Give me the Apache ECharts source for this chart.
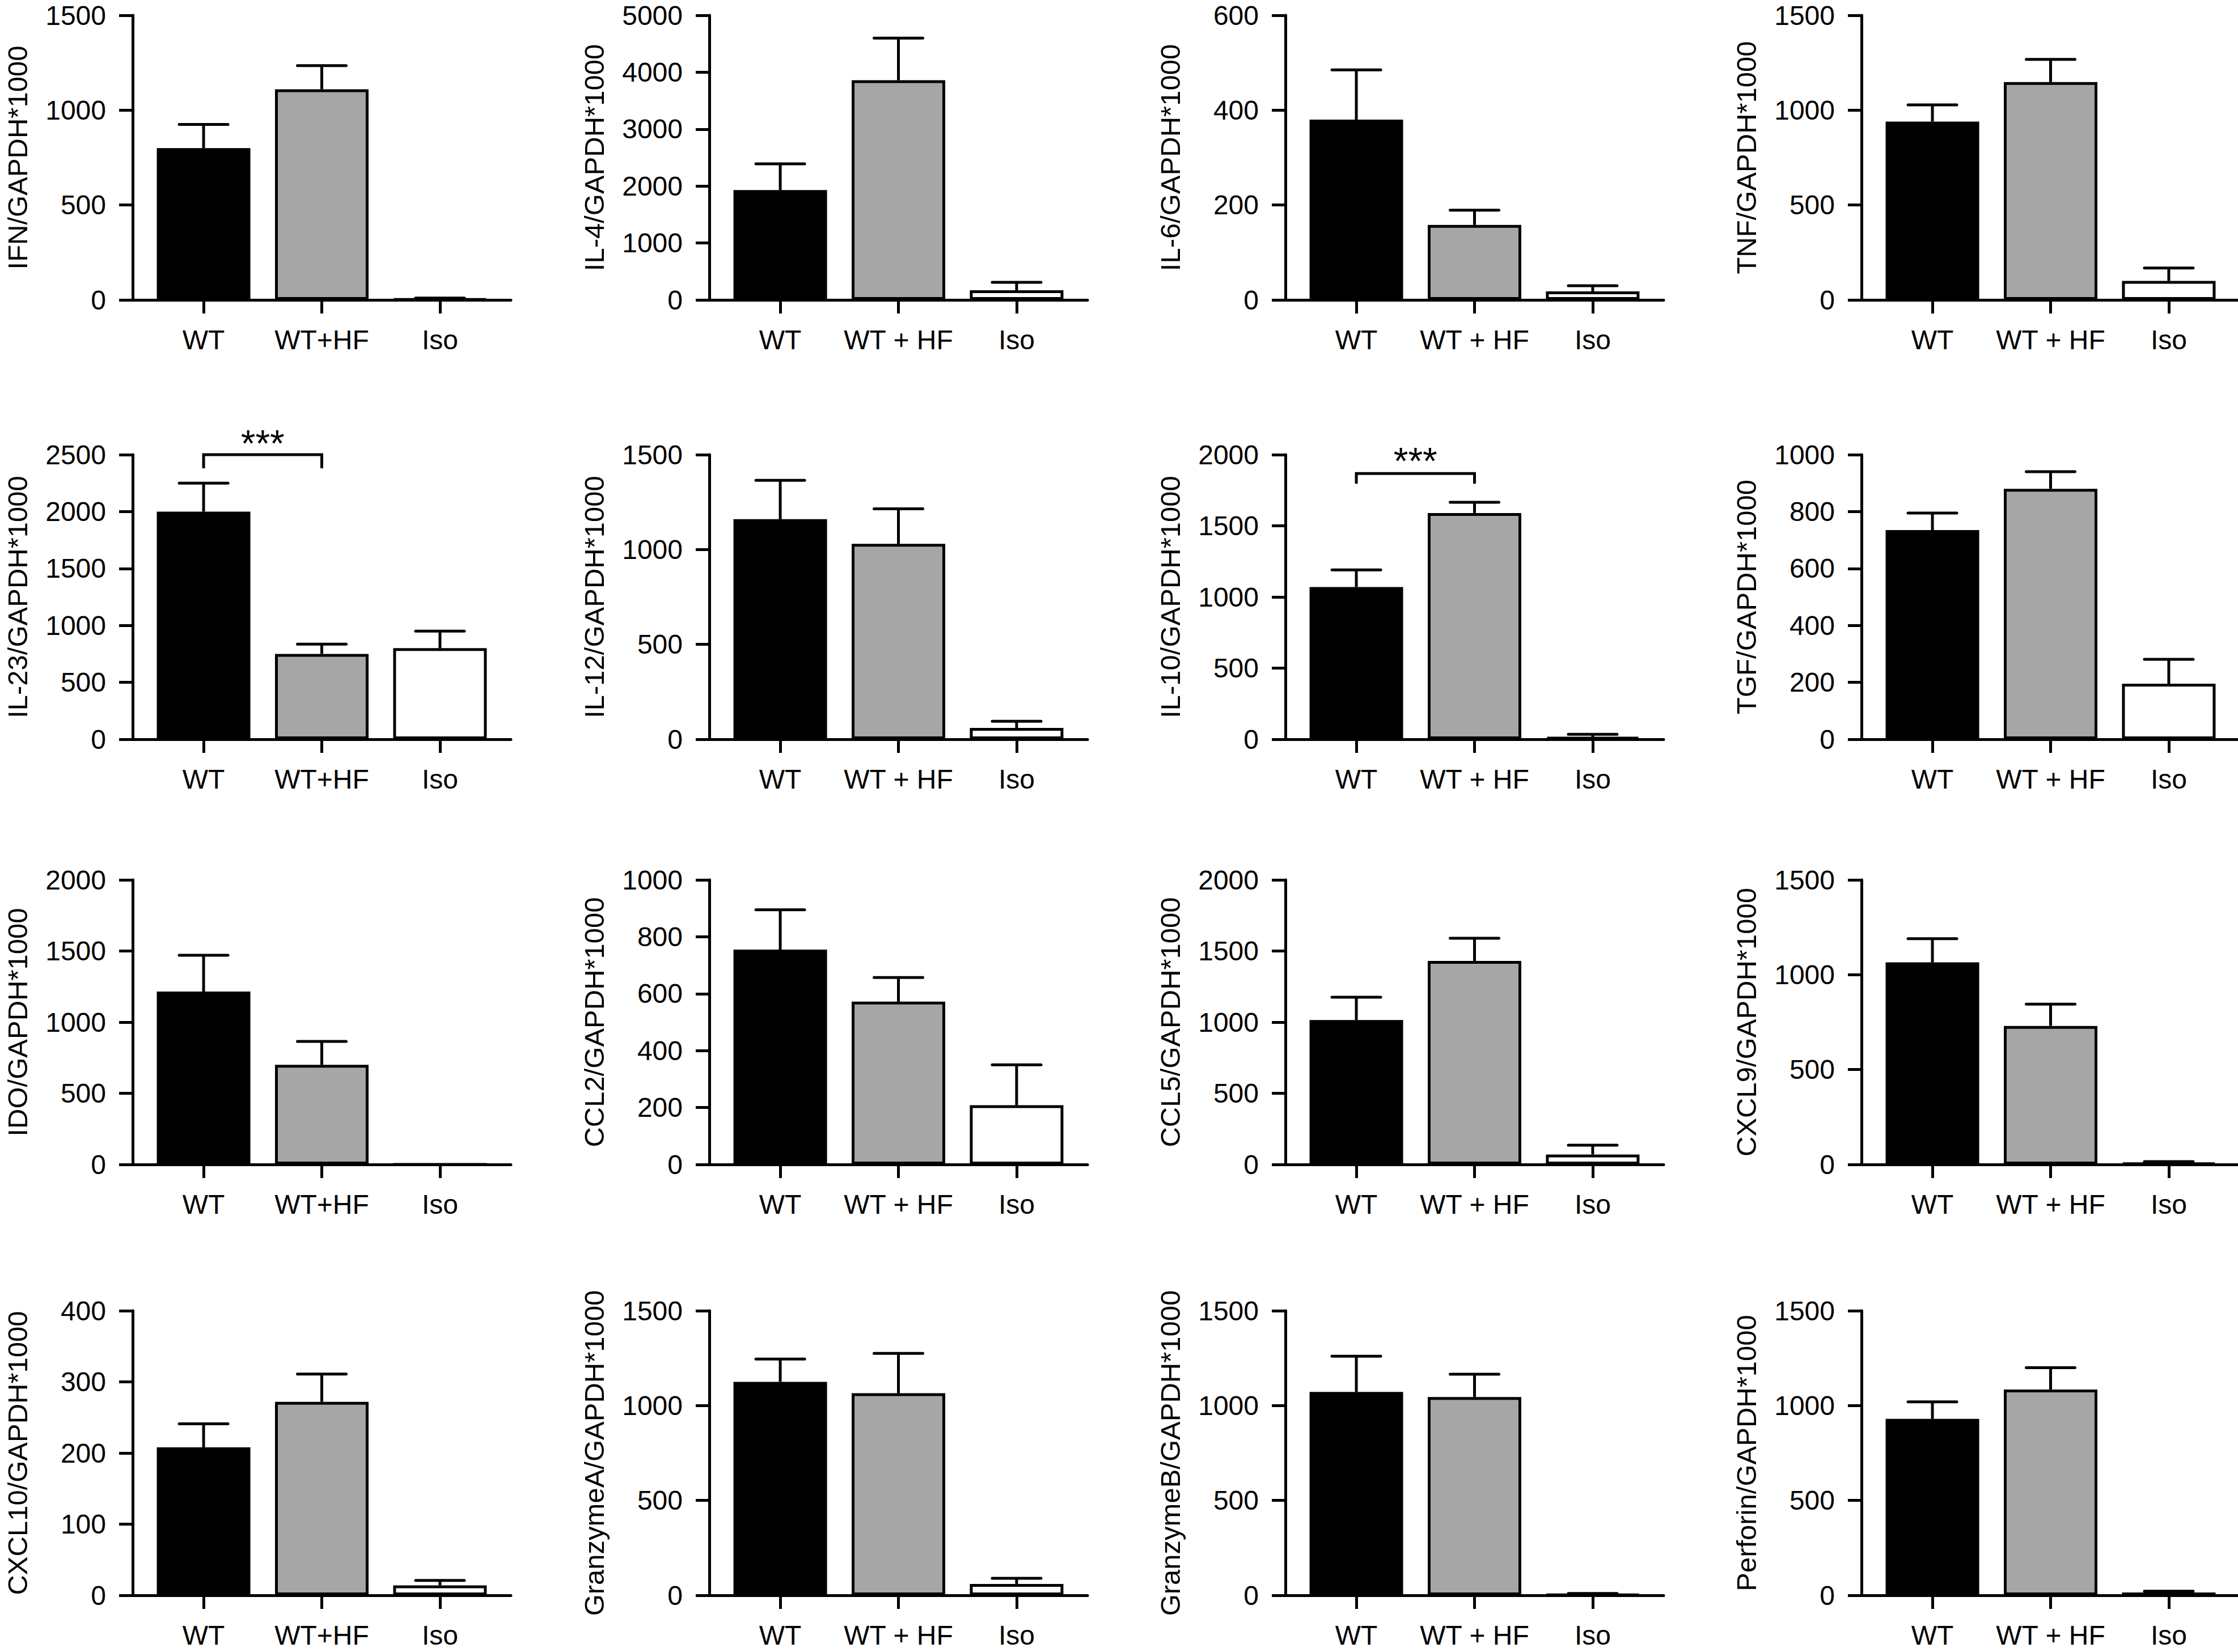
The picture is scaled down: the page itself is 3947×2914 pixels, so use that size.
<!DOCTYPE html>
<html><head><meta charset="utf-8">
<script src="https://cdn.jsdelivr.net/npm/echarts@6/dist/echarts.min.js"></script>
<style>html,body{margin:0;padding:0;background:#fff}#c{width:3947px;height:2914px}</style>
</head><body><div id="c"></div>
<script>
// ---- data ----
const titles = ['IFN/GAPDH*1000','IL-4/GAPDH*1000','IL-6/GAPDH*1000','TNF/GAPDH*1000',
  'IL-23/GAPDH*1000','IL-12/GAPDH*1000','IL-10/GAPDH*1000','TGF/GAPDH*1000',
  'IDO/GAPDH*1000','CCL2/GAPDH*1000','CCL5/GAPDH*1000','CXCL9/GAPDH*1000',
  'CXCL10/GAPDH*1000','GranzymeA/GAPDH*1000','GranzymeB/GAPDH*1000','Perforin/GAPDH*1000'];
const catsCompact = ['WT','WT+HF','Iso'];
const catsSpaced = ['WT','WT + HF','Iso'];
const compactPanels = [0,4,8,12];
const yMax  = [1500,5000,600,1500, 2500,1500,2000,1000, 2000,1000,2000,1500, 400,1500,1500,1500];
const yStep = [500,1000,200,500, 500,500,500,200, 500,200,500,500, 100,500,500,500];
const wt    = [800,1930,380,940, 2000,1160,1070,735, 1215,755,1015,1065, 208,1125,1072,930];
const wtSem = [125,460,105,88, 250,205,120,60, 255,140,160,125, 33,120,188,90];
const hf    = [1110,3860,158,1148, 750,1030,1590,880, 700,572,1430,730, 272,1065,1045,1085];
const hfSem = [125,740,31,120, 85,185,75,60, 165,85,160,115, 39,210,120,115];
const iso   = [5,170,18,100, 800,60,15,195, 0,208,70,8, 14,60,5,15];
const isoSem= [5,140,12,68, 150,35,20,86, 0,142,65,7, 7,30,5,7];
// significance brackets
const sigPanel   = [4, 6];
const sigBracket = [2500, 1868];
const sigLeg     = [2380, 1796];
const sigStar    = [2600, 1955];
const sigText    = ['***','***'];

// ---- layout / style ----
const FONT = '"Liberation Sans", Arial, Helvetica, sans-serif';
const colX = [234, 1251, 2267, 3283];
const rowY = [27, 802, 1552, 2312];
const GW = 667, GH = 502;
const LW = 5;
const barColors = ['#000000', '#a6a6a6', '#ffffff'];

const chart = echarts.init(document.getElementById('c'), null, {renderer: 'svg', width: 3947, height: 2914});
const grid = [], xAxis = [], yAxis = [], series = [];

for (let i = 0; i < 16; i++) {
  const r = Math.floor(i / 4), c = i % 4;
  const cats = compactPanels.includes(i) ? catsCompact : catsSpaced;
  grid.push({left: colX[c], top: rowY[r], width: GW, height: GH, containLabel: false, outerBoundsMode: 'none'});
  xAxis.push({
    gridIndex: i, type: 'value', min: -0.6, max: 2.6,
    axisLine: {show: true, onZero: false, lineStyle: {color: '#000', width: LW}},
    axisTick: {show: true, customValues: [0, 1, 2], length: 24, lineStyle: {color: '#000', width: LW}},
    axisLabel: {show: true, customValues: [0, 1, 2], formatter: v => cats[Math.round(v)] || '',
      fontSize: 48, color: '#000', margin: 46, fontFamily: FONT},
    splitLine: {show: false}
  });
  yAxis.push({
    gridIndex: i, type: 'value', min: 0, max: yMax[i], interval: yStep[i],
    axisLine: {show: true, onZero: false, lineStyle: {color: '#000', width: LW}},
    axisTick: {show: true, length: 24, lineStyle: {color: '#000', width: LW}},
    axisLabel: {fontSize: 48, color: '#000', margin: 47, fontFamily: FONT, formatter: v => String(v)},
    splitLine: {show: false},
    name: titles[i], nameLocation: 'middle', nameGap: 179, nameMoveOverlap: false,
    nameTextStyle: {fontSize: 49, color: '#000', fontFamily: FONT}
  });
  const means = [wt[i], hf[i], iso[i]];
  const sems = [wtSem[i], hfSem[i], isoSem[i]];
  series.push({
    type: 'custom', xAxisIndex: i, yAxisIndex: i, z: 1, silent: true,
    encode: {x: 0, y: [1, 2]},
    data: means.map((m, k) => [k, m, m + sems[k]]),
    renderItem: (params, api) => {
      if (api.value(2) <= api.value(1)) return null;
      const lo = api.coord([api.value(0), api.value(1)]);
      const hi = api.coord([api.value(0), api.value(2)]);
      return {type: 'group', children: [
        {type: 'line', shape: {x1: lo[0], y1: lo[1], x2: hi[0], y2: hi[1]}, style: {stroke: '#000', lineWidth: LW}},
        {type: 'line', shape: {x1: hi[0] - 43, y1: hi[1], x2: hi[0] + 43, y2: hi[1]}, style: {stroke: '#000', lineWidth: LW, lineCap: 'round'}}
      ]};
    }
  });
  series.push({
    type: 'bar', xAxisIndex: i, yAxisIndex: i, z: 2, silent: true, barWidth: 165,
    itemStyle: {borderColor: '#000', borderWidth: LW},
    data: means.map((m, k) => ({value: [k, m], itemStyle: {color: barColors[k]}}))
  });
}

sigPanel.forEach((p, j) => {
  series.push({
    type: 'custom', xAxisIndex: p, yAxisIndex: p, z: 3, silent: true, clip: false,
    encode: {x: [0, 1], y: [2, 3, 4]},
    data: [[0, 1, sigBracket[j], sigLeg[j], sigStar[j]]],
    renderItem: (params, api) => {
      const a = api.coord([api.value(0), api.value(2)]);
      const b = api.coord([api.value(1), api.value(2)]);
      const legY = api.coord([api.value(0), api.value(3)])[1];
      const s = api.coord([(api.value(0) + api.value(1)) / 2, api.value(4)]);
      return {type: 'group', children: [
        {type: 'polyline', shape: {points: [[a[0], legY], a, b, [b[0], legY]]}, style: {stroke: '#000', lineWidth: LW, fill: null}},
        {type: 'text', x: s[0], y: s[1], style: {text: sigText[j], fontSize: 66, fontFamily: FONT, fill: '#000', align: 'center', verticalAlign: 'middle'}}
      ]};
    }
  });
});

chart.setOption({animation: false, backgroundColor: '#fff', grid, xAxis, yAxis, series});
</script></body></html>
